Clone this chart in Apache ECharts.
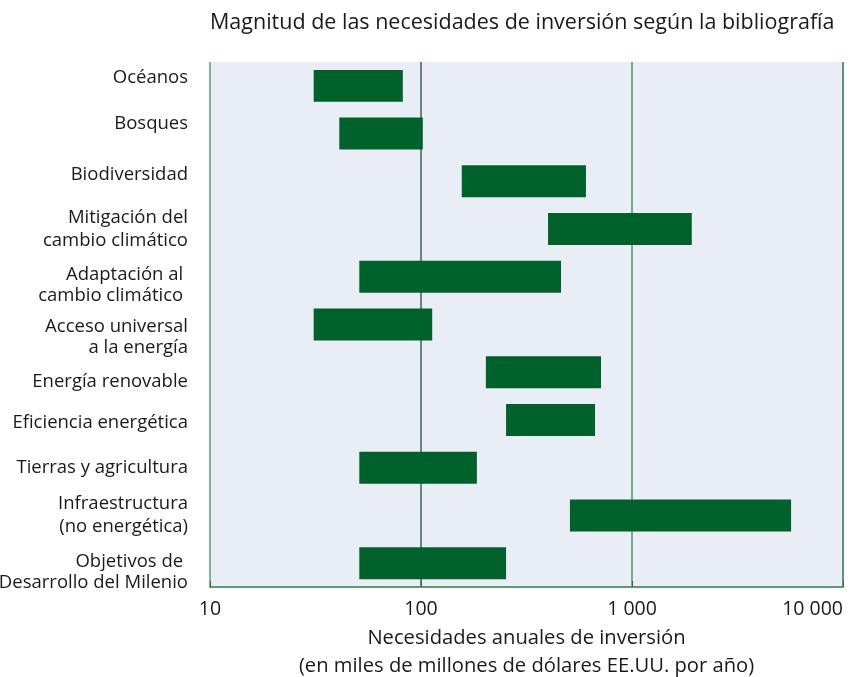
<!DOCTYPE html>
<html>
<head>
<meta charset="utf-8">
<script src="https://cdn.jsdelivr.net/npm/echarts@6/dist/echarts.min.js"></script>
<style>html,body{margin:0;padding:0;background:#fff}#c{width:853px;height:677px}</style>
</head>
<body>
<div id="c"></div>
<script>
const chartTitle = 'Magnitud de las necesidades de inversión según la bibliografía';
const axisName = 'Necesidades anuales de inversión\n(en miles de millones de dólares EE.UU. por año)';
const categories = [
  'Océanos',
  'Bosques',
  'Biodiversidad',
  'Mitigación del\ncambio climático',
  'Adaptación al \ncambio climático ',
  'Acceso universal\na la energía',
  'Energía renovable',
  'Eficiencia energética',
  'Tierras y agricultura',
  'Infraestructura\n(no energética)',
  'Objetivos de \nDesarrollo del Milenio'
];
const lowValues  = [31, 41, 156, 400, 51, 31, 203, 253, 51, 508, 51];
const highValues = [82, 102, 605, 1920, 461, 113, 713, 668, 184, 5675, 253];
const tickLabels = {10: '10', 100: '100', 1000: '1 000', 10000: '10 000'};

// layout only: vertical nudge (px) of each category label, as in the original
const labelShift = [-6, -8, -5, 0, 7, 12, 8, 1, 0, 0, 8];

const FONT = 'Open Sans';
const LABEL_SIZE = 18.5;
const LINE_H = 23;
const barColor = '#00622b';

const baseLabel = {fontFamily: FONT, fontSize: LABEL_SIZE, color: '#1a1a1a', lineHeight: LINE_H};
const rich = {n: Object.assign({}, baseLabel)};
labelShift.forEach((d, i) => {
  rich['s' + i] = Object.assign({}, baseLabel, {
    lineHeight: LINE_H + 2 * Math.abs(d),
    verticalAlign: d >= 0 ? 'bottom' : 'top'
  });
});

function labelFormatter(value, idx) {
  const lines = String(value).split('\n');
  const d = labelShift[idx] || 0;
  return lines.map((ln, k) => {
    let key = 'n';
    if (d > 0 && k === 0) key = 's' + idx;
    if (d < 0 && k === lines.length - 1) key = 's' + idx;
    return '{' + key + '|' + ln + '}';
  }).join('\n');
}

const chart = echarts.init(document.getElementById('c'), null, {renderer: 'canvas'});
const data = categories.map((c, i) => [lowValues[i], highValues[i], i]);

chart.setOption({
  animation: false,
  textStyle: {fontFamily: FONT},
  title: {
    text: chartTitle,
    left: 205, top: 7,
    textStyle: {fontFamily: FONT, fontSize: 21.5, fontWeight: 'normal', color: '#1a1a1a'}
  },
  grid: {
    left: 210, right: 10, top: 62, bottom: 90,
    outerBoundsMode: 'none', containLabel: false,
    show: true, backgroundColor: '#e9edf6', borderWidth: 0
  },
  xAxis: {
    type: 'log', logBase: 10, min: 10, max: 10000,
    name: axisName,
    nameLocation: 'middle', nameGap: 36,
    nameTextStyle: {fontFamily: FONT, fontSize: 20.2, color: '#1a1a1a', lineHeight: 28, verticalAlign: 'top'},
    axisLine: {show: true, lineStyle: {color: '#5a9e70', width: 2}},
    axisTick: {show: true, inside: true, length: 6, lineStyle: {color: '#3f5f58'}},
    axisLabel: {
      fontFamily: FONT, fontSize: 19.5, color: '#1a1a1a', margin: 12,
      formatter: v => tickLabels[Math.round(v)] || '',
      alignMaxLabel: 'right'
    },
    splitLine: {show: true, showMinLine: true, showMaxLine: true,
      lineStyle: {color: ['#5a9e70', '#3f5f58', '#4c9a66', '#1e7b3c'], width: 1.5}}
  },
  yAxis: {
    type: 'category', data: categories, inverse: true,
    axisLine: {show: false}, axisTick: {show: false}, splitLine: {show: false},
    axisLabel: {
      interval: 0, hideOverlap: false,
      fontFamily: FONT, fontSize: LABEL_SIZE, color: '#1a1a1a', margin: 22,
      lineHeight: LINE_H, align: 'right',
      formatter: labelFormatter, rich: rich
    }
  },
  series: [{
    type: 'custom',
    data: data,
    encode: {x: [0, 1], y: 2},
    renderItem: function (params, api) {
      const ci = api.value(2);
      const s = api.coord([api.value(0), ci]);
      const e = api.coord([api.value(1), ci]);
      const h = api.size([10, 1])[1] * 0.67;
      return {
        type: 'rect',
        shape: {x: s[0], y: s[1] - h / 2, width: e[0] - s[0], height: h},
        style: {fill: barColor}
      };
    }
  }]
});
</script>
</body>
</html>
